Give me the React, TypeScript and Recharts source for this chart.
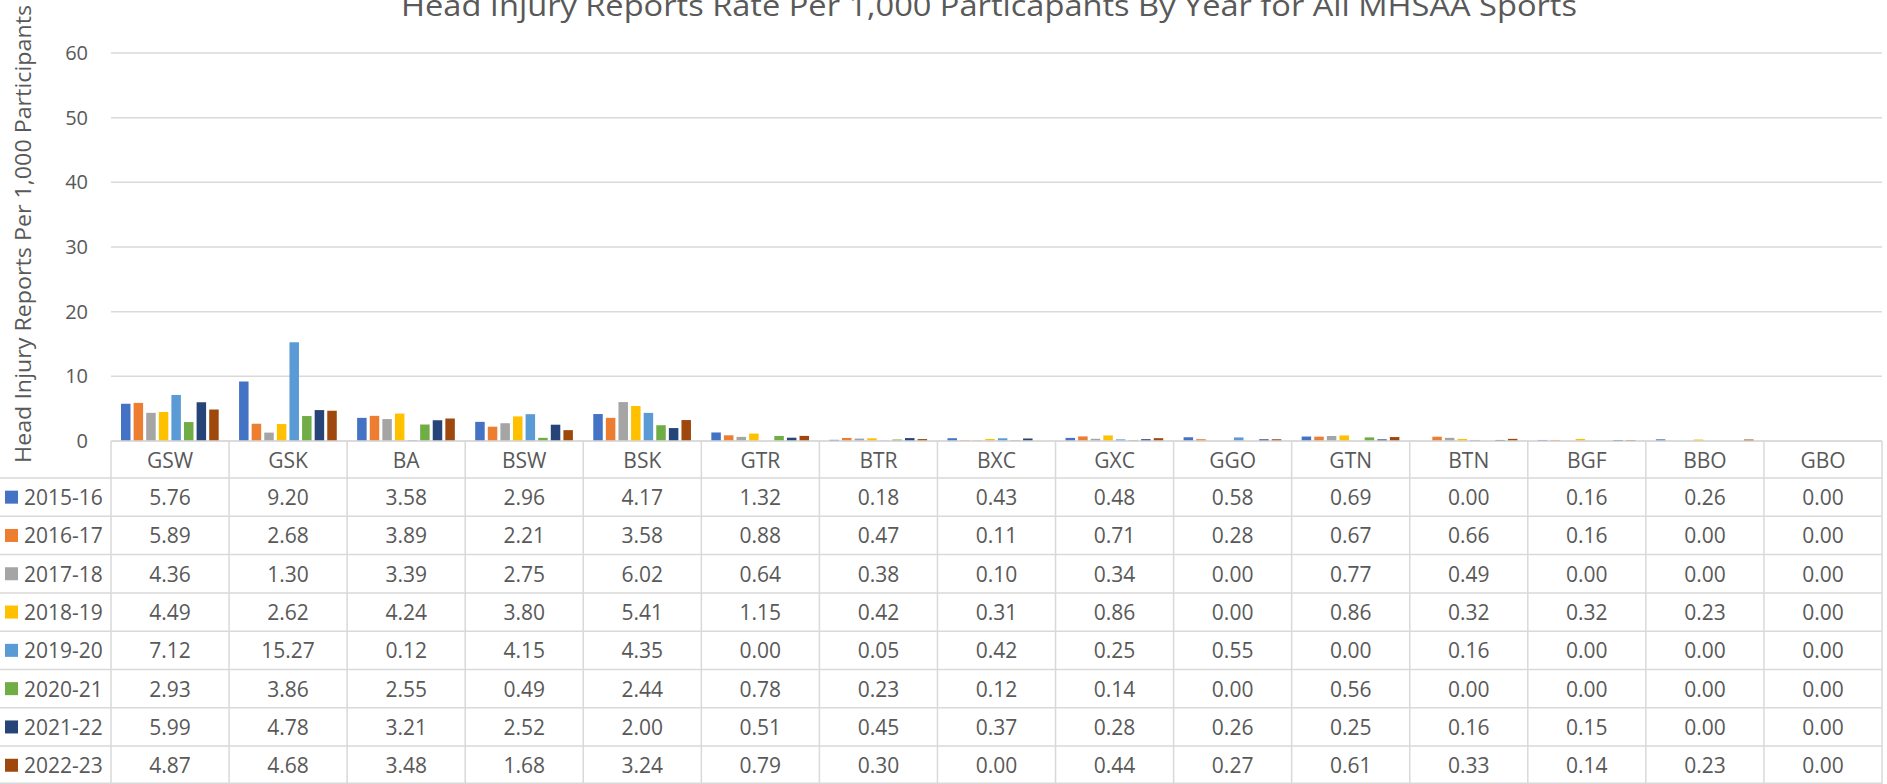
import React from "react";
import { BarChart, Bar, XAxis, YAxis, CartesianGrid, Customized } from "recharts";

const sports = ["GSW", "GSK", "BA", "BSW", "BSK", "GTR", "BTR", "BXC", "GXC", "GGO", "GTN", "BTN", "BGF", "BBO", "GBO"];
const years = ["2015-16", "2016-17", "2017-18", "2018-19", "2019-20", "2020-21", "2021-22", "2022-23"];
const colors = ["#4472C4", "#ED7D31", "#A5A5A5", "#FFC000", "#5B9BD5", "#70AD47", "#264478", "#9E480E"];

const y2015 = [5.76, 9.2, 3.58, 2.96, 4.17, 1.32, 0.18, 0.43, 0.48, 0.58, 0.69, 0.0, 0.16, 0.26, 0.0];
const y2016 = [5.89, 2.68, 3.89, 2.21, 3.58, 0.88, 0.47, 0.11, 0.71, 0.28, 0.67, 0.66, 0.16, 0.0, 0.0];
const y2017 = [4.36, 1.3, 3.39, 2.75, 6.02, 0.64, 0.38, 0.1, 0.34, 0.0, 0.77, 0.49, 0.0, 0.0, 0.0];
const y2018 = [4.49, 2.62, 4.24, 3.8, 5.41, 1.15, 0.42, 0.31, 0.86, 0.0, 0.86, 0.32, 0.32, 0.23, 0.0];
const y2019 = [7.12, 15.27, 0.12, 4.15, 4.35, 0.0, 0.05, 0.42, 0.25, 0.55, 0.0, 0.16, 0.0, 0.0, 0.0];
const y2020 = [2.93, 3.86, 2.55, 0.49, 2.44, 0.78, 0.23, 0.12, 0.14, 0.0, 0.56, 0.0, 0.0, 0.0, 0.0];
const y2021 = [5.99, 4.78, 3.21, 2.52, 2.0, 0.51, 0.45, 0.37, 0.28, 0.26, 0.25, 0.16, 0.15, 0.0, 0.0];
const y2022 = [4.87, 4.68, 3.48, 1.68, 3.24, 0.79, 0.3, 0.0, 0.44, 0.27, 0.61, 0.33, 0.14, 0.23, 0.0];
const yearValues = [y2015, y2016, y2017, y2018, y2019, y2020, y2021, y2022];

const yTicks = [0, 10, 20, 30, 40, 50, 60];

const TITLE = "Head Injury Reports Rate Per 1,000 Particapants By Year for All MHSAA Sports";
const Y_LABEL = "Head Injury Reports Per 1,000 Participants";

const data = sports.map((sport, i) => {
  const row: Record<string, string | number> = { sport };
  years.forEach((yr, j) => {
    row[yr] = yearValues[j][i];
  });
  return row;
});

// layout
const W = 1887;
const H = 784;
const PLOT_LEFT = 111;
const PLOT_RIGHT = 1882;
const PLOT_TOP = 53;
const AXIS_Y = 441;
const HEADER_H = 37;
const ROW_H = 38.3;
const BAND = (PLOT_RIGHT - PLOT_LEFT) / sports.length;

const TEXT = "#595959";
const LINE = "#d9d9d9";
const FONT = "'Open Sans', sans-serif";

function TableColumn(props: any) {
  const { x, y, index, payload } = props;
  const last = index === sports.length - 1;
  return (
    <g>
      <line x1={x - BAND / 2} x2={x - BAND / 2} y1={y} y2={H} stroke={LINE} strokeWidth={1.5} />
      {last && <line x1={x + BAND / 2} x2={x + BAND / 2} y1={y} y2={H} stroke={LINE} strokeWidth={1.5} />}
      <text x={x} y={y + HEADER_H / 2} textAnchor="middle" dominantBaseline="central" fill={TEXT} fontSize={21} fontFamily={FONT}>
        {payload.value}
      </text>
      {yearValues.map((vals, j) => (
        <text
          key={years[j]}
          x={x}
          y={y + HEADER_H + ROW_H * (j + 0.5)}
          textAnchor="middle"
          dominantBaseline="central"
          fill={TEXT}
          fontSize={21}
          fontFamily={FONT}
        >
          {vals[index].toFixed(2)}
        </text>
      ))}
    </g>
  );
}

function TableFrame() {
  return (
    <g>
      {years.map((yr, j) => {
        const top = AXIS_Y + HEADER_H + ROW_H * j;
        return (
          <g key={yr}>
            <line x1={0} x2={PLOT_RIGHT} y1={top} y2={top} stroke={LINE} strokeWidth={1.5} />
            <rect x={5} y={top + ROW_H / 2 - 6.5} width={13} height={13} fill={colors[j]} />
            <text x={24} y={top + ROW_H / 2} dominantBaseline="central" fill={TEXT} fontSize={21} fontFamily={FONT}>
              {yr}
            </text>
          </g>
        );
      })}
      <line x1={0} x2={PLOT_RIGHT} y1={H - 0.75} y2={H - 0.75} stroke={LINE} strokeWidth={1.5} />
      <text
        x={989}
        y={16}
        textAnchor="middle"
        fill={TEXT}
        fontSize={29}
        fontFamily={FONT}
        textLength={1176}
        lengthAdjust="spacingAndGlyphs"
      >
        {TITLE}
      </text>
      <text
        x={23}
        y={234}
        transform="rotate(-90, 23, 234)"
        textAnchor="middle"
        dominantBaseline="central"
        fill={TEXT}
        fontSize={21}
        fontFamily={FONT}
        textLength={458}
        lengthAdjust="spacingAndGlyphs"
      >
        {Y_LABEL}
      </text>
    </g>
  );
}

export default function App() {
  return (
    <div style={{ position: "absolute", left: 0, top: 0, background: "#fff" }}>
      <BarChart
        width={W}
        height={H}
        data={data}
        margin={{ top: PLOT_TOP, right: W - PLOT_RIGHT, bottom: 0, left: 0 }}
        barSize={9.5}
        barGap={3.1}
      >
        <CartesianGrid vertical={false} stroke={LINE} strokeWidth={1.5} />
        <XAxis
          dataKey="sport"
          height={H - AXIS_Y}
          interval={0}
          tickSize={0}
          tickMargin={0}
          tickLine={false}
          axisLine={{ stroke: LINE, strokeWidth: 1.5 }}
          tick={<TableColumn />}
        />
        <YAxis
          width={PLOT_LEFT}
          domain={[0, 60]}
          ticks={yTicks}
          tickSize={0}
          tickMargin={23}
          tickLine={false}
          axisLine={false}
          tick={{ fill: TEXT, fontSize: 20, fontFamily: FONT }}
        />
        {years.map((yr, j) => (
          <Bar key={yr} dataKey={yr} fill={colors[j]} isAnimationActive={false} />
        ))}
        <Customized component={<TableFrame />} />
      </BarChart>
    </div>
  );
}
